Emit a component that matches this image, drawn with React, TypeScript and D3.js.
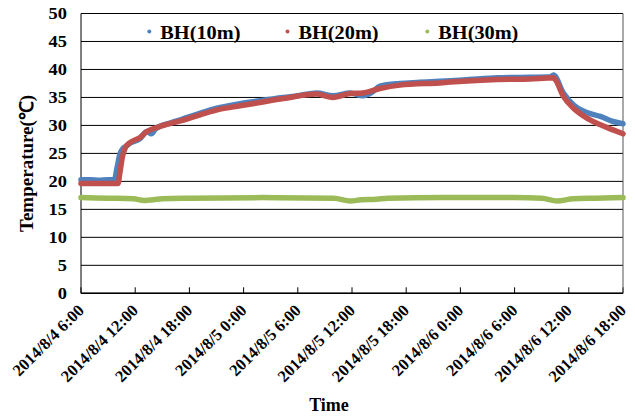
import React from "react";
import * as d3 from "d3";

// hours after 2014/8/4 6:00
const hoursBH10 = [0, 1, 2, 3, 3.7, 4.0, 4.3, 4.6, 5.0, 5.5, 6.5, 7.3, 7.8, 8.2, 8.8, 10, 11, 13.2, 15.4, 17.6, 19.8, 22.4, 24, 26.1, 27.9, 29.8, 31.2, 32.2, 33.1, 35.3, 37.5, 39.7, 42.3, 46.1, 49.7, 52.0, 52.3, 53.4, 54.5, 56.0, 57.5, 58.9, 60];
const valuesBH10 = [20.3, 20.3, 20.2, 20.3, 20.3, 22.5, 24.8, 25.8, 26.3, 26.9, 27.6, 28.9, 28.5, 29.3, 29.9, 30.5, 31.0, 32.2, 33.2, 33.9, 34.4, 35.0, 35.3, 35.8, 35.3, 35.8, 35.3, 35.9, 37.0, 37.5, 37.7, 37.9, 38.1, 38.5, 38.6, 38.7, 39.0, 35.8, 33.7, 32.3, 31.6, 30.7, 30.3];

const hoursBH20 = [0, 2, 4.1, 4.3, 4.6, 4.9, 5.4, 6.5, 7.3, 8.7, 10, 11, 13.2, 15.4, 17.6, 19.8, 22.4, 26.1, 27.9, 29.8, 31.2, 33.1, 35.3, 39.7, 42.3, 46.1, 49.7, 52.3, 52.5, 53.4, 54.5, 56.0, 57.5, 58.9, 60];
const valuesBH20 = [19.6, 19.6, 19.6, 21.5, 24.5, 26.0, 26.9, 27.8, 28.9, 29.8, 30.4, 30.8, 31.9, 32.9, 33.5, 34.1, 34.8, 35.6, 35.0, 35.7, 35.8, 36.6, 37.2, 37.6, 37.9, 38.2, 38.3, 38.5, 38.2, 35.2, 33.1, 31.3, 30.1, 29.2, 28.5];

const hoursBH30 = [0, 3, 5.8, 7.0, 8.0, 9.0, 12, 20, 28, 29.8, 31, 32.7, 34, 40, 48, 51, 52.7, 54.5, 57, 60];
const valuesBH30 = [17.1, 17.0, 16.9, 16.6, 16.7, 16.9, 17.0, 17.1, 17.0, 16.5, 16.7, 16.8, 17.0, 17.1, 17.1, 17.0, 16.5, 16.9, 17.0, 17.1];

const seriesNames = ["BH(10m)", "BH(20m)", "BH(30m)"];
const seriesColors = ["#4F81BD", "#C0504D", "#9BBB59"];
const yTicks = [0, 5, 10, 15, 20, 25, 30, 35, 40, 45, 50];

const start = new Date(2014, 7, 4, 6, 0);
const end = new Date(2014, 7, 6, 18, 0);
const toDate = (h: number) => new Date(start.getTime() + h * 3600 * 1000);

const W = 635, H = 419;
const L = 81, R = 623, T = 13.5, B = 293.3;
const FONT = "'Liberation Serif', 'Times New Roman', serif";

export default function App() {
  const x = d3.scaleTime().domain([start, end]).range([L, R]);
  const y = d3.scaleLinear().domain([0, 50]).range([B, T]);
  const xTicks = d3.timeHour.every(6)!.range(start, new Date(end.getTime() + 1));
  const fmt = (d: Date) => `${d.getFullYear()}/${d.getMonth() + 1}/${d.getDate()} ${d.getHours()}:${String(d.getMinutes()).padStart(2, "0")}`;

  const series = [
    { h: hoursBH10, v: valuesBH10 },
    { h: hoursBH20, v: valuesBH20 },
    { h: hoursBH30, v: valuesBH30 },
  ];
  const line = d3.line<[number, number]>()
    .x((d) => x(toDate(d[0])))
    .y((d) => y(d[1]))
    .curve(d3.curveMonotoneX);

  const legendX = [149.3, 287.5, 427.3];

  return (
    <svg width={W} height={H} style={{ position: "absolute", left: 0, top: 0, background: "#fff" }} fontFamily={FONT}>
      <rect x={0} y={0} width={W} height={H} fill="#fff" />
      {yTicks.map((t) => (
        <line key={"g" + t} x1={L} x2={R} y1={y(t)} y2={y(t)} stroke="#000" strokeWidth={1} />
      ))}
      {yTicks.map((t) => (
        <text key={"yt" + t} x={67} y={y(t)} dy="0.35em" textAnchor="end" fontSize={16} fontWeight="bold" transform={`translate(67,0) scale(1.15,1) translate(-67,0)`}>
          {t}
        </text>
      ))}
      {xTicks.map((d, i) => (
        <line key={"xt" + i} x1={x(d)} x2={x(d)} y1={B} y2={B - 6} stroke="#000" strokeWidth={1} />
      ))}
      {xTicks.map((d, i) => (
        <text key={"xl" + i} transform={`translate(${x(d) + 4},${B + 18}) rotate(-45)`} textAnchor="end" fontSize={16.5} fontWeight="bold">
          {fmt(d)}
        </text>
      ))}
      <line x1={L} x2={L} y1={T} y2={B} stroke="#000" strokeWidth={1} />
      <line x1={R} x2={R} y1={T} y2={B} stroke="#555" strokeWidth={1} />
      <line x1={L} x2={R} y1={B} y2={B} stroke="#000" strokeWidth={1.5} />

      {series.map((s, i) => (
        <path
          key={"s" + i}
          d={line(s.h.map((h, j) => [h, s.v[j]] as [number, number])) || ""}
          fill="none"
          stroke={seriesColors[i]}
          strokeWidth={5.5}
          strokeLinejoin="round"
          strokeLinecap="round"
        />
      ))}

      {seriesNames.map((n, i) => (
        <g key={"lg" + i}>
          <circle cx={legendX[i]} cy={31.5} r={2} fill={seriesColors[i]} />
          <text x={legendX[i] + 11} y={38.7} fontSize={19} fontWeight="bold" transform={`translate(${legendX[i] + 11},0) scale(1.07,1) translate(${-(legendX[i] + 11)},0)`}>
            {n}
          </text>
        </g>
      ))}

      <text transform={`translate(33,${(T + B) / 2 + 10}) rotate(-90)`} textAnchor="middle" fontSize={19} fontWeight="bold">
        Temperature(℃)
      </text>
      <text x={329} y={411} textAnchor="middle" fontSize={18} fontWeight="bold">
        Time
      </text>
    </svg>
  );
}
